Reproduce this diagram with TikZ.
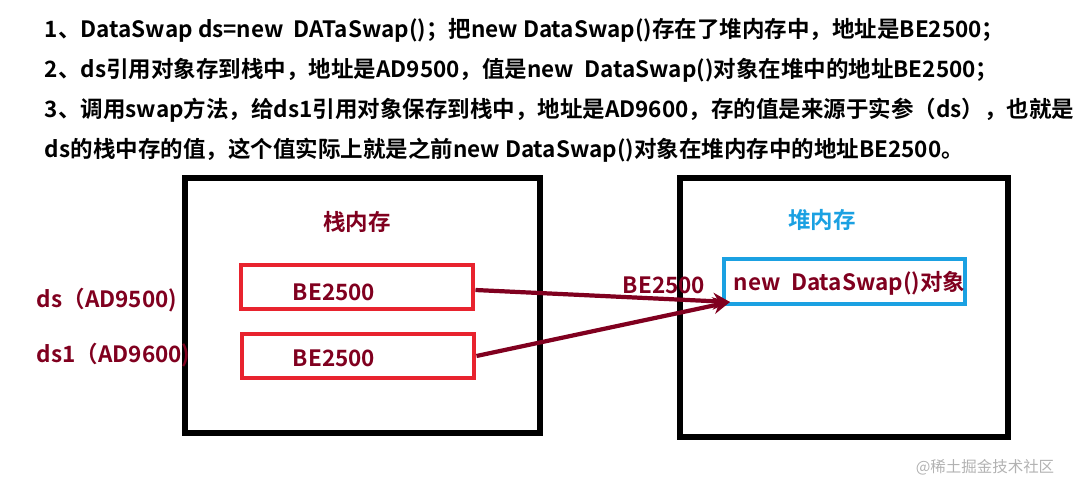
\documentclass[tikz,border=0pt]{standalone}
\usepackage{fontspec}
\setmainfont{Noto Sans CJK SC}[BoldFont={* Bold}]
\newfontfamily\cjkbold{Noto Sans CJK SC Bold}
\usetikzlibrary{arrows.meta,positioning}
\definecolor{darkred}{HTML}{80001F}
\definecolor{boxred}{HTML}{E8232E}
\definecolor{heapblue}{HTML}{1BA1E2}
\tikzset{
  memframe/.style={draw=black, line width=4pt},
  slot/.style={draw=boxred, line width=3.5pt, minimum width=232*0.025cm, minimum height=44*0.025cm},
  objslot/.style={draw=heapblue, line width=3.5pt, minimum width=241*0.025cm, minimum height=45*0.025cm},
  txt/.style={font=\cjkbold\fontsize{16pt}{19pt}\selectfont},
  ref/.style={-{Stealth[length=12pt,width=12pt,open]}, darkred, line width=3pt}
}
\begin{document}
\begin{tikzpicture}[x=0.025cm, y=-0.025cm]
\useasboundingbox (0,0) rectangle (1084,493);

% explanation lines
\node[txt, anchor=west] (l1) at (40,30) {1、DataSwap ds=new\ \ DATaSwap()；把new DataSwap()存在了堆内存中，地址是BE2500；};
\node[txt, anchor=west] (l2) at (40,70) {2、ds引用对象存到栈中，地址是AD9500，值是new\ \ DataSwap()对象在堆中的地址BE2500；};
\node[txt, anchor=west] (l3) at (40,110) {3、调用swap方法，给ds1引用对象保存到栈中，地址是AD9600，存的值是来源于实参（ds），也就是};
\node[txt, anchor=west] (l4) at (40,150) {ds的栈中存的值，这个值实际上就是之前new DataSwap()对象在堆内存中的地址BE2500。};

% stack and heap frames
\draw[memframe] (185,178) rectangle (540,433);
\draw[memframe] (680,178) rectangle (1008,437);
\node[txt, darkred] (stack) at (357,222) {栈内存};
\node[txt, heapblue] (heap) at (822,220) {堆内存};

% reference slots on the stack
\node[slot] (ds) at (357,287) {};
\node[txt, darkred] at (334,292) {BE2500};
\node[slot] (ds1) at (358,356) {};
\node[txt, darkred] at (334,358) {BE2500};
\node[txt, darkred, anchor=west] (dsname) at (32,300) {ds（AD9500)};
\node[txt, darkred, anchor=west] (ds1name) at (32,355) {ds1（AD9600)};

% object on the heap
\node[objslot] (obj) at (844.5,281.5) {};
\node[txt, darkred, anchor=west] (objname) at (729,283) {new\ \ DataSwap()对象};
\node[txt, darkred] (addr) at (664,285) {BE2500};

% references
\coordinate (tip) at (730,302);
\draw[ref] (ds.east) ++(0,3) -- (tip);
\draw[ref] (ds1.east) -- (tip);

\node[font=\fontsize{11pt}{13pt}\selectfont, gray!60] (mark) at (985,467) {@稀土掘金技术社区};
\end{tikzpicture}
\end{document}
